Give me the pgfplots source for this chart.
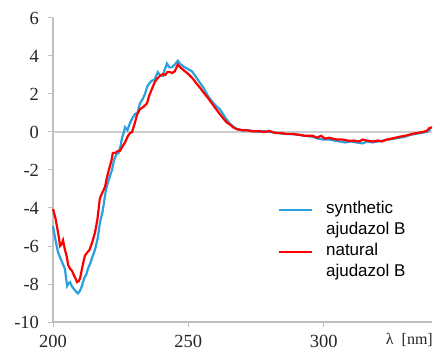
\documentclass[border=0pt]{standalone}
\usepackage{fontspec}
\setmainfont{Liberation Serif}
\newfontfamily\arialfont{Liberation Sans}
\newfontfamily\timesfont{Liberation Serif}
\usepackage{pgfplots}
\pgfplotsset{compat=1.18}
\definecolor{cdblue}{RGB}{41,161,222}
\definecolor{cdred}{RGB}{255,0,0}
\definecolor{axgray}{RGB}{191,191,191}
\begin{document}
\begin{tikzpicture}
\begin{axis}[
  name=ax,
  scale only axis,
  width=379bp, height=304bp,
  xmin=200, xmax=340, ymin=-10, ymax=6,
  xtick={200,250,300}, xticklabels={200,250,300},
  ytick={-10,-8,-6,-4,-2,0,2,4,6}, yticklabels={-10,-8,-6,-4,-2,0,2,4,6},
  axis x line*=bottom, axis y line*=left,
  axis line style={axgray, line width=1.2bp},
  tick style={axgray, line width=1bp},
  tick align=outside,
  major tick length=5bp,
  ticklabel style={font=\timesfont\fontsize{18.5bp}{22bp}\selectfont, text=black!85},
  xticklabel style={anchor=base, inner sep=0pt, yshift=-20.5bp},
  yticklabel style={xshift=-5.5bp},
  xlabel={λ\enspace[nm]},
  xlabel style={font=\timesfont\fontsize{16bp}{19bp}\selectfont, text=black!85, at={(rel axis cs:1,0)}, anchor=base east, inner sep=0pt, yshift=-22bp, xshift=1bp},
  legend style={at={(rel axis cs:0.585,0.407)}, anchor=north west, draw=none, fill=none,
    font=\arialfont\fontsize{17bp}{21bp}\selectfont,
    nodes={align=left, inner sep=1bp},
    row sep=5bp,
    /tikz/every odd column/.append style={column sep=12bp}},
  legend image code/.code={\draw[#1] (0bp,9bp) -- (33bp,9bp); \path (0bp,-9bp);},
  legend cell align=left,
  clip=false,
]
\addplot[axgray!80, line width=1.2bp, forget plot] coordinates {(200,0) (340,0)};
\addplot[cdblue, line width=2.2bp] coordinates {
(200,-4.95) (200.8,-5.6) (201.8,-6.3) (202.6,-6.6) (203.5,-6.9) (204.4,-7.2)
(205.2,-8.1) (205.8,-7.95) (206.3,-7.9) (206.9,-8.1) (207.4,-8.2) (208.2,-8.35)
(209.2,-8.5) (209.8,-8.4) (210.7,-8.1) (211.5,-7.7) (212.3,-7.5) (212.9,-7.2)
(213.8,-6.9) (214.5,-6.6) (215.5,-6.2) (216.5,-5.6) (217.3,-4.8) (218.3,-4.2)
(219.6,-3.0) (220.6,-2.5) (221.8,-2.0) (222.5,-1.5) (223.3,-1.2) (224.2,-1.1)
(225.0,-0.7) (225.5,-0.3) (226.0,-0.1) (226.6,0.25) (227.5,0.1) (228.5,0.5)
(229.2,0.7) (230.3,0.95) (231.2,1.0) (232.1,1.5) (233,1.7) (234,2.0)
(234.7,2.35) (235.5,2.55) (236.5,2.7) (237.5,2.75) (238.7,3.15) (239.5,3.0)
(240.6,2.95) (241.3,3.3) (242.1,3.6) (243.0,3.4) (243.9,3.4) (245,3.55)
(246.1,3.75) (247.2,3.55) (248.7,3.4) (250,3.3) (251.3,3.2) (252.8,2.9)
(254.2,2.6) (255.5,2.35) (257.2,1.9) (258.5,1.65) (260,1.4) (261.6,1.2)
(263,0.9) (264.2,0.65) (265.3,0.45) (266.5,0.3) (267.9,0.15) (270,0.08)
(272,0.1) (274,0.05) (276,0.0) (278,0.05) (280,0.0) (282,-0.02)
(284,-0.08) (286,-0.1) (288.6,-0.12) (291,-0.15) (293,-0.2) (295.9,-0.25)
(298,-0.35) (300,-0.4) (302,-0.4) (304,-0.45) (306,-0.5) (308,-0.55)
(310,-0.5) (312,-0.55) (314.4,-0.6) (316,-0.5) (318,-0.55) (320,-0.5)
(322,-0.45) (324,-0.4) (326,-0.35) (328,-0.3) (330,-0.25) (332,-0.15)
(334,-0.1) (336,-0.05) (338,0.0) (339.5,0.15)
};
\addlegendentry{synthetic\\ajudazol B}
\addplot[cdred, line width=2.2bp] coordinates {
(200,-4.05) (201,-4.6) (202,-5.4) (202.6,-6.0) (203.2,-5.9) (203.7,-5.7)
(204.4,-6.2) (205,-6.5) (205.6,-7.0) (206.3,-7.2) (207,-7.3) (207.6,-7.5)
(208.3,-7.7) (208.9,-7.9) (209.5,-7.85) (210,-7.7) (210.7,-7.2) (211.3,-6.8)
(211.8,-6.5) (212.9,-6.3) (213.5,-6.2) (214.5,-5.8) (215.5,-5.3) (216.4,-4.6)
(217.3,-3.5) (218.2,-3.2) (219.2,-2.9) (219.9,-2.4) (221.0,-1.8) (221.6,-1.5)
(222.1,-1.1) (223,-1.1) (224,-1.0) (224.7,-1.0) (225.5,-0.8) (226.6,-0.55)
(227.7,-0.2) (228.5,-0.05) (229.2,0.0) (230.3,0.5) (231,0.9) (232.1,1.2)
(233.2,1.3) (234.7,1.5) (235.5,1.9) (236.5,2.25) (237.5,2.6) (238.4,2.8)
(239.5,2.95) (240.6,3.05) (241.5,3.0) (242.2,3.15) (243.2,3.15) (244,3.1)
(245.0,3.2) (246.1,3.55) (247,3.4) (248.7,3.2) (250,3.05) (251.7,2.8)
(253,2.55) (254.2,2.35) (255.5,2.1) (257.2,1.8) (258.5,1.55) (260,1.25)
(261.6,0.95) (263,0.7) (264.2,0.5) (265.3,0.4) (266.5,0.25) (267.9,0.15)
(270,0.1) (272,0.08) (274,0.03) (276,0.05) (278,0.0) (280,0.05)
(282,-0.05) (284,-0.05) (286,-0.1) (288.6,-0.1) (291,-0.15) (293,-0.2)
(295.9,-0.2) (297.5,-0.3) (299,-0.2) (300.5,-0.35) (302,-0.3) (303.3,-0.35)
(305,-0.4) (307,-0.4) (309.6,-0.47) (311,-0.45) (313,-0.5) (314.4,-0.4)
(316,-0.45) (318.1,-0.5) (320,-0.45) (321.5,-0.5) (323.2,-0.4) (325,-0.35)
(326.5,-0.3) (328,-0.25) (330,-0.2) (332.8,-0.1) (334.5,-0.05) (336.5,0.0)
(338,0.05) (339,0.2) (340,0.25)
};
\addlegendentry{natural\\ajudazol B}
\end{axis}
\pgfresetboundingbox
\path[use as bounding box] ([xshift=-53bp,yshift=-31bp]ax.south west) rectangle ([xshift=5bp,yshift=18bp]ax.north east);
\end{tikzpicture}
\end{document}
